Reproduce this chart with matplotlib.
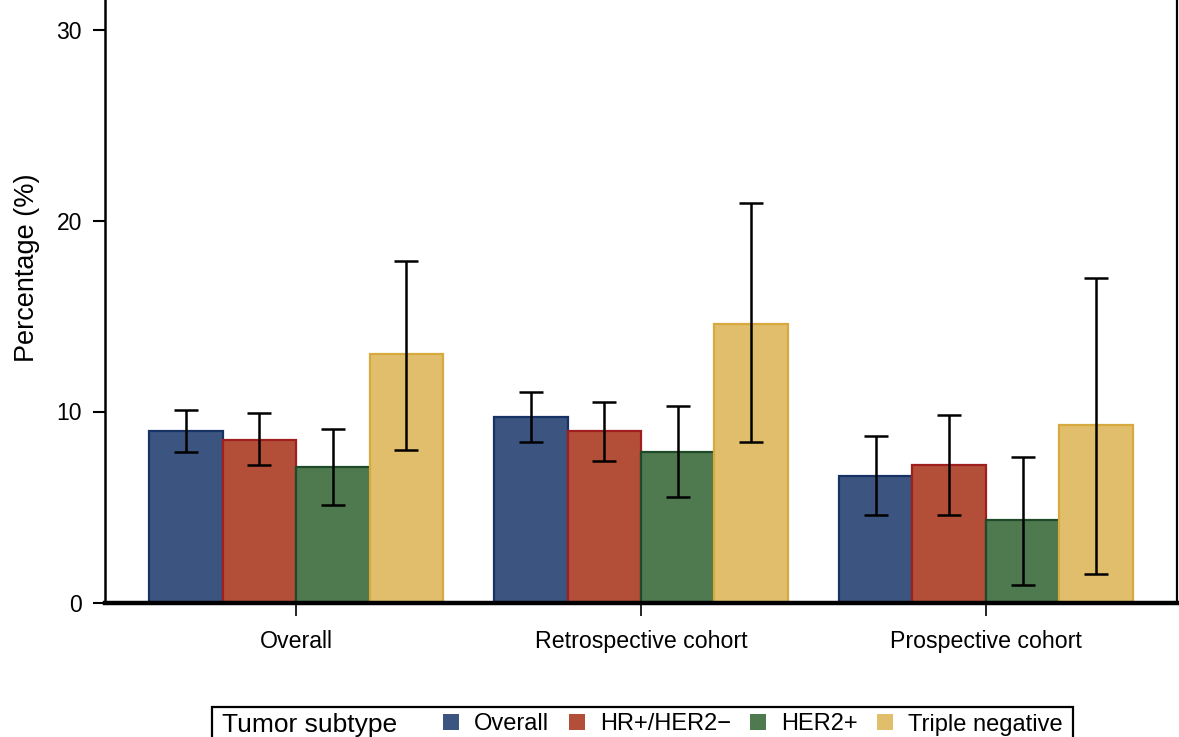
import matplotlib
matplotlib.use("Agg")
import matplotlib.pyplot as plt
from matplotlib.patches import Patch, Rectangle
import numpy as np

plt.rcParams['font.family'] = ['Liberation Sans', 'DejaVu Sans']

groups = ["Overall", "Retrospective cohort", "Prospective cohort"]
subtypes = ["Overall", "HR+/HER2\u2212", "HER2+", "Triple negative"]

# values (percent) per subtype across groups
val_overall = [9.0, 9.7, 6.6]
val_hr = [8.5, 9.0, 7.2]
val_her2 = [7.1, 7.9, 4.3]
val_tn = [13.0, 14.6, 9.3]

low_overall = [7.9, 8.4, 4.6]
low_hr = [7.2, 7.4, 4.6]
low_her2 = [5.1, 5.5, 0.9]
low_tn = [8.0, 8.4, 1.5]

up_overall = [10.1, 11.0, 8.7]
up_hr = [9.9, 10.5, 9.8]
up_her2 = [9.1, 10.3, 7.6]
up_tn = [17.9, 20.9, 17.0]

yticks = [0, 10, 20, 30]

values = [val_overall, val_hr, val_her2, val_tn]
lows = [low_overall, low_hr, low_her2, low_tn]
ups = [up_overall, up_hr, up_her2, up_tn]

fills = ["#3B5580", "#B34F38", "#4F7A50", "#E1BE6B"]
edges = ["#173366", "#A01E1E", "#1E4A28", "#D6AA3E"]

W, H = 1179, 737
fig = plt.figure(figsize=(W / 100, H / 100), dpi=100)
ax = fig.add_axes([105 / W, (H - 602.5) / H, (1177 - 105) / W, (602.5 + 66) / H])

x = np.arange(len(groups))
bw = 0.213
for i in range(4):
    pos = x + (i - 1.5) * bw
    v = np.array(values[i])
    lo = v - np.array(lows[i])
    hi = np.array(ups[i]) - v
    ax.bar(pos, v, width=bw, color=fills[i], edgecolor=edges[i], linewidth=1.6, zorder=2)
    ax.errorbar(pos, v, yerr=[lo, hi], fmt='none', ecolor='black', elinewidth=1.8,
                capsize=8.6, capthick=1.8, zorder=3)

ax.set_xlim(-0.554, 2.554)
ax.set_ylim(0, 35)
ax.set_xticks(x)
ax.set_xticklabels(groups, fontsize=16.7)
ax.set_yticks(yticks)
ax.set_yticklabels([str(t) for t in yticks], fontsize=16.5)
ax.tick_params(axis='y', length=8.6, width=1.5, pad=8, direction='out')
ax.tick_params(axis='x', length=9, width=1.2, pad=11, direction='out')
ax.set_ylabel("Percentage (%)", fontsize=19.5, labelpad=12)
ax.spines['top'].set_visible(False)
ax.spines['left'].set_linewidth(1.8)
ax.spines['right'].set_linewidth(1.6)
ax.spines['bottom'].set_linewidth(3.2)
ax.spines['bottom'].set_zorder(4)

# legend frame and title
fig.patches.append(Rectangle((211.7 / W, -0.05), (1072.7 - 211.7) / W, 0.05 + (H - 707) / H,
                             transform=fig.transFigure, fill=False, edgecolor='black',
                             linewidth=1.6))
fig.text(222 / W, (H - 725) / H, "Tumor subtype", fontsize=19, ha='left', va='center')
handles = [Patch(facecolor=fills[i], edgecolor='none') for i in range(4)]
fig.legend(handles, subtypes, loc='center left', bbox_to_anchor=(443 / W, (H - 724.5) / H),
           ncol=4, frameon=False, fontsize=17, handlelength=0.68, handleheight=0.68,
           handletextpad=0.64, columnspacing=0.82, borderpad=0, borderaxespad=0)

fig.savefig("out.png", dpi=100)
